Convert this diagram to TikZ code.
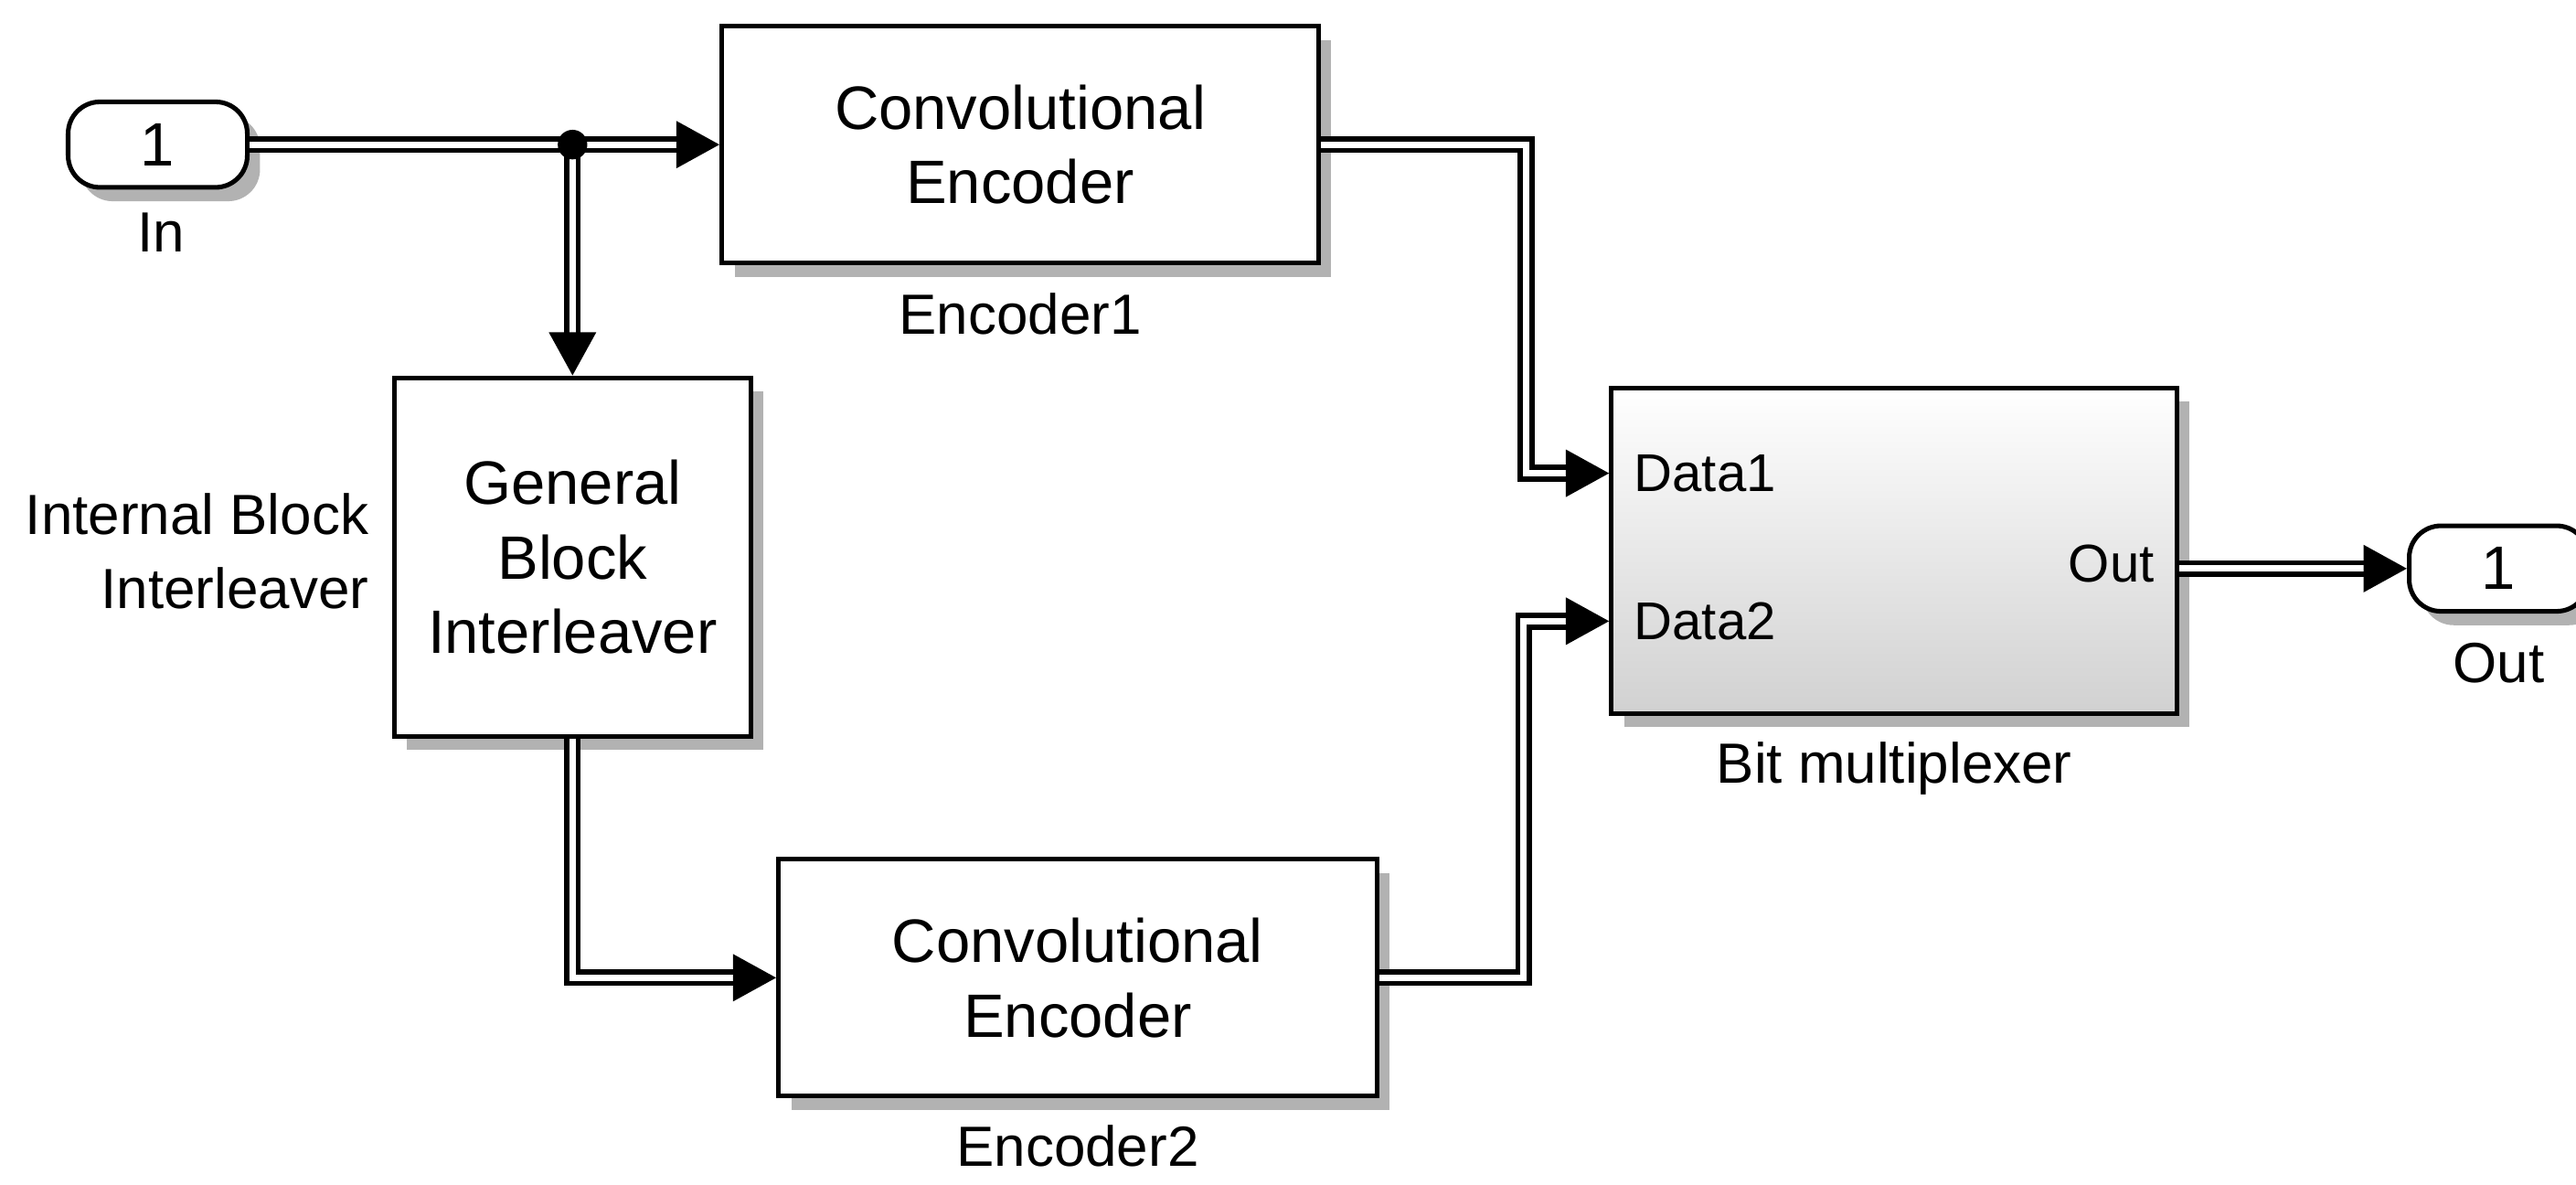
\documentclass[tikz,border=0pt]{standalone}
\usepackage{fontspec}
\setmainfont{Liberation Sans}
\usetikzlibrary{arrows.meta,shadows}
\begin{document}
\begin{tikzpicture}[x=0.01cm,y=-0.01cm,
    blk/.style={draw,line width=0.8pt,fill=white,inner sep=0pt,align=center,
      font=\fontsize{10.6}{12.9}\selectfont,
      drop shadow={shadow xshift=2.2pt,shadow yshift=-2.4pt,fill=black,opacity=0.3}},
    port/.style={blk,rounded corners=5.5pt,minimum width=1.09cm,minimum height=0.52cm},
    lbl/.style={font=\fontsize{9.8}{12.8}\selectfont,inner sep=0pt},
    plbl/.style={font=\fontsize{9.2}{11}\selectfont,inner sep=0pt},
    sig/.style={draw,line width=0.9pt,double,double distance=1.1pt,
      -{Triangle[length=7.5pt,width=8pt]}}]
      \useasboundingbox (0,0) rectangle (1568,721);
      \draw
        (96,88) node[port] (in){1}
        (621,88) node[blk,minimum width=3.63cm,minimum height=1.44cm] (enc1){Convolutional\\Encoder}
        (348.5,339) node[blk,minimum width=2.17cm,minimum height=2.18cm] (inter){General\\Block\\Interleaver}
        (656,595) node[blk,minimum width=3.64cm,minimum height=1.44cm] (enc2){Convolutional\\Encoder}
        (1153,335) node[blk,top color=white,bottom color=black!18,minimum width=3.44cm,minimum height=1.98cm] (mux){}
        (1521,346) node[port] (outp){1};
      \draw
        (98,153.5) node[lbl,anchor=base] (inlbl){In}
        (621,203.5) node[lbl,anchor=base] (enc1lbl){Encoder1}
        (225,335.5) node[lbl,anchor=east,align=right] (interlbl){Internal Block\\Interleaver}
        (656,709.5) node[lbl,anchor=base] (enc2lbl){Encoder2}
        (1153,476.5) node[lbl,anchor=base] (muxlbl){Bit multiplexer}
        (1521,415.5) node[lbl,anchor=base] (outlbl){Out}
        (994,288) node[plbl,anchor=west] (d1lbl){Data1}
        (994,378) node[plbl,anchor=west] (d2lbl){Data2}
        (1312,343) node[plbl,anchor=east] (olbl){Out};
      \coordinate (junc) at (348.5,88);
      \coordinate (d1) at (mux.west |- d1lbl);
      \coordinate (d2) at (mux.west |- d2lbl);
      \draw[sig] (in) to (enc1);
      \draw[sig] (junc) to (inter);
      \draw[sig] (inter) |- (enc2);
      \draw[sig] (enc1.east) -- ++(125,0) |- (d1);
      \draw[sig] (enc2.east) -- ++(88,0) |- (d2);
      \draw[sig] (outp -| mux.east) to (outp);
      \fill (junc) circle[radius=0.09cm];
    \end{tikzpicture}
\end{document}
